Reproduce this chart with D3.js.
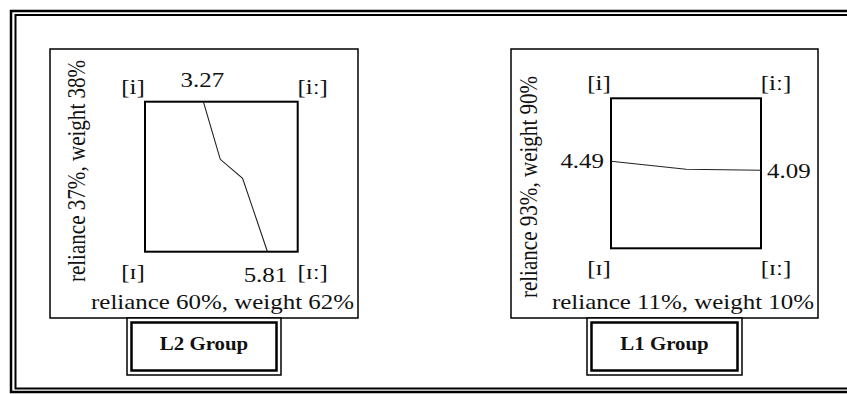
<!DOCTYPE html>
<html lang="en">
<head>
    <meta charset="UTF-8">
    <title>Vowel boundary L2 / L1</title>
    <script src="https://d3js.org/d3.v7.min.js"></script>
    <style>
        body { margin: 0; background: #fff; }
        text { font-family: "Liberation Serif", "Times New Roman", serif; fill: #111; }
    </style>
</head>
<body>
<script>
    // Data
    const groups = ["L2 Group", "L1 Group"];
    const xAxisLabels = ["reliance 60%, weight 62%", "reliance 11%, weight 10%"];
    const yAxisLabels = ["reliance 37%, weight 38%", "reliance 93%, weight 90%"];
    const cornerLabels = ["[i]", "[i\u02D0]", "[\u026A]", "[\u026A\u02D0]"]; // TL, TR, BL, BR
    // boundary points, x: 0 = left, 1 = right; y: 0 = top, 1 = bottom
    const l2Boundary = [[0.382, 0], [0.493, 0.384], [0.639, 0.511], [0.802, 1]];
    const l1Boundary = [[0, 0.42], [0.5, 0.473], [1, 0.48]];
    const endLabels = [["3.27", "5.81"], ["4.49", "4.09"]];

    const W = 847, H = 394;
    const SX = 1.16; // the figure text is a little stretched sideways
    const FS = 21.5;

    const svg = d3.select("body").append("svg")
        .attr("width", W)
        .attr("height", H);

    // outer double frame
    svg.append("rect").attr("x", 11).attr("y", 11).attr("width", 860).attr("height", 381)
        .attr("fill", "none").attr("stroke", "#000").attr("stroke-width", 2.5);
    svg.append("rect").attr("x", 15.5).attr("y", 15).attr("width", 860).attr("height", 373.5)
        .attr("fill", "none").attr("stroke", "#000").attr("stroke-width", 2);

    function label(g, x, y, str, anchor, size, weight) {
        return g.append("text")
            .attr("transform", `translate(${x},${y}) scale(${SX},1)`)
            .attr("text-anchor", anchor || "start")
            .style("font-size", (size || FS) + "px")
            .style("font-weight", weight || "normal")
            .text(str);
    }

    // panel layout
    const panels = [
        { box: [50, 49, 308, 269], sq: [145, 101.7, 152.7, 150], tag: [127, 318, 154, 57],
          yLab: [85, 171], data: l2Boundary, vertical: true },
        { box: [511, 49, 307, 269], sq: [611, 98.3, 150, 150], tag: [587, 318, 155, 57],
          yLab: [537, 187], data: l1Boundary, vertical: false }
    ];

    panels.forEach((p, i) => {
        const g = svg.append("g");
        const [bx, by, bw, bh] = p.box;
        const [sx, sy, sw, sh] = p.sq;

        g.append("rect").attr("x", bx).attr("y", by).attr("width", bw).attr("height", bh)
            .attr("fill", "#fff").attr("stroke", "#000").attr("stroke-width", 1.5);

        const x = d3.scaleLinear().domain([0, 1]).range([sx, sx + sw]);
        const y = d3.scaleLinear().domain([0, 1]).range([sy, sy + sh]);

        g.append("rect").attr("x", x(0)).attr("y", y(0))
            .attr("width", x(1) - x(0)).attr("height", y(1) - y(0))
            .attr("fill", "none").attr("stroke", "#000").attr("stroke-width", 2);

        const line = d3.line().x(d => x(d[0])).y(d => y(d[1]));
        g.append("path").datum(p.data)
            .attr("d", line)
            .attr("fill", "none").attr("stroke", "#222").attr("stroke-width", 1.1);

        // corner vowel labels
        const cx0 = x(0) - 12, cx1 = x(1) + 15;
        label(g, cx0, y(0) - 8, cornerLabels[0], "middle");
        label(g, cx1, y(0) - 8, cornerLabels[1], "middle");
        label(g, cx0, y(1) + 27, cornerLabels[2], "middle");
        label(g, cx1, y(1) + 27, cornerLabels[3], "middle");

        // end values of the boundary
        const first = p.data[0], last = p.data[p.data.length - 1];
        if (p.vertical) {
            label(g, x(first[0]) - 1, y(first[1]) - 15, endLabels[i][0], "middle");
            label(g, x(last[0]) - 2, y(last[1]) + 30, endLabels[i][1], "middle");
        } else {
            label(g, x(first[0]) - 7, y(first[1]) + 7, endLabels[i][0], "end");
            label(g, x(last[0]) + 6, y(last[1]) + 8, endLabels[i][1], "start");
        }

        // axis captions
        label(g, bx + bw - 4, by + bh - 9, xAxisLabels[i], "end");
        g.append("text")
            .attr("transform", `translate(${p.yLab[0]},${p.yLab[1]}) rotate(-90) scale(0.98,1.16)`)
            .attr("text-anchor", "middle")
            .style("font-size", FS + "px")
            .text(yAxisLabels[i]);

        // group tag, double box
        const [tx, ty, tw, th] = p.tag;
        g.append("rect").attr("x", tx).attr("y", ty).attr("width", tw).attr("height", th)
            .attr("fill", "#fff").attr("stroke", "#000").attr("stroke-width", 1.5);
        g.append("rect").attr("x", tx + 4.5).attr("y", ty + 4.5).attr("width", tw - 9).attr("height", th - 9)
            .attr("fill", "none").attr("stroke", "#000").attr("stroke-width", 2.5);
        label(g, tx + tw / 2, ty + 32, groups[i], "middle", 18, "bold");
    });
</script>
</body>
</html>
